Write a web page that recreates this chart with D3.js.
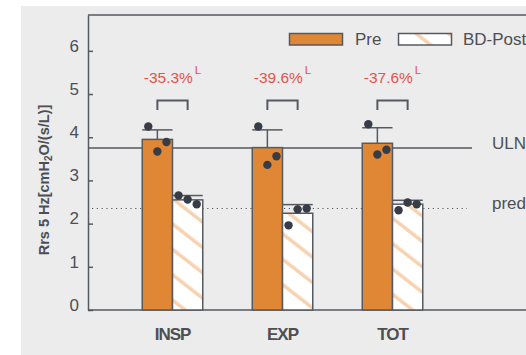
<!DOCTYPE html>
<html><head><meta charset="utf-8">
<script src="https://cdn.jsdelivr.net/npm/d3@7"></script>
<style>
html,body{margin:0;padding:0;background:#fff;overflow:hidden;}
svg{display:block;font-family:"Liberation Sans",Arial,sans-serif;}
</style></head><body>
<svg id="c" width="526" height="355"></svg>
<script>
const categories = ["INSP", "EXP", "TOT"];
const preValues = [3.95, 3.76, 3.86];
const postValues = [2.55, 2.24, 2.45];
const preErrTop = [4.17, 4.17, 4.22];
const postErrTop = [2.65, 2.44, 2.54];
// individual points: [left, center, right]
const preDots = [[4.25, 3.67, 3.89], [4.25, 3.36, 3.56], [4.30, 3.60, 3.71]];
const postDots = [[2.65, 2.56, 2.45], [1.96, 2.33, 2.35], [2.31, 2.49, 2.45]];
const changeLabels = ["-35.3%", "-39.6%", "-37.6%"];
const yTicks = [0, 1, 2, 3, 4, 5, 6];
const ulnValue = 3.75;
const predValue = 2.35;
const seriesNames = ["Pre", "BD-Post"];

(function(){
const svg = d3.select("#c");
const orange = "#e08736", stroke = "#555a60", textC = "#4d4f55", dotC = "#373c46", red = "#e5534b";

const defs = svg.append("defs");
const pat = defs.append("pattern").attr("id","hatch").attr("patternUnits","userSpaceOnUse")
  .attr("width",20).attr("height",20).attr("patternTransform","rotate(-52)");
pat.append("rect").attr("width",20).attr("height",20).attr("fill","#fff");
pat.append("rect").attr("x",8).attr("width",3.5).attr("height",20).attr("fill","#f7d2b0");

svg.append("rect").attr("x",21).attr("y",6).attr("width",505).attr("height",349).attr("fill","#ececec");

const mLeft = 88, mBottom = 310, mTop = 15;
const y = d3.scaleLinear().domain([0, 6.83]).range([mBottom, mTop]);
const x = d3.scaleBand().domain(categories).range([142.25, 422.75]).paddingInner(0.45).paddingOuter(0);
const bw = x.bandwidth()/2;
const sub = d3.scaleBand().domain(seriesNames).range([0, x.bandwidth()]);

// frame
svg.append("line").attr("x1",mLeft).attr("x2",526).attr("y1",mTop).attr("y2",mTop).attr("stroke",stroke).attr("stroke-width",1.5);
svg.append("line").attr("x1",mLeft).attr("x2",526).attr("y1",mBottom).attr("y2",mBottom).attr("stroke",stroke).attr("stroke-width",1.5);

const ya = svg.append("g").attr("transform",`translate(${mLeft},0)`)
  .call(d3.axisLeft(y).tickValues(yTicks).tickFormat(d3.format("d")).tickSizeInner(-5).tickSizeOuter(0).tickPadding(9));
ya.select(".domain").attr("stroke",stroke).attr("stroke-width",1.5);
ya.selectAll(".tick line").attr("stroke",stroke).attr("stroke-width",1.5);
ya.selectAll(".tick text").attr("fill",textC).attr("font-size",17).attr("dy","0.02em")
  .attr("font-family","Liberation Sans, Arial, sans-serif");

// reference lines
svg.append("line").attr("x1",mLeft).attr("x2",472).attr("y1",y(ulnValue)).attr("y2",y(ulnValue))
  .attr("stroke",stroke).attr("stroke-width",1.5);
svg.append("line").attr("x1",92).attr("x2",467).attr("y1",y(predValue)).attr("y2",y(predValue))
  .attr("stroke",stroke).attr("stroke-width",1.2).attr("stroke-dasharray","1.2,3.6");
svg.append("text").attr("x",492).attr("y",y(ulnValue)+1).attr("font-size",17).attr("fill",textC).text("ULN");
svg.append("text").attr("x",492).attr("y",y(predValue)+1).attr("font-size",17).attr("fill",textC).text("pred");

// bars
categories.forEach((c,i)=>{
  const x0 = x(c) + sub("Pre"), x1 = x(c) + sub("BD-Post");
  [[x0, preValues[i], preErrTop[i]],[x1, postValues[i], postErrTop[i]]].forEach(([bx,v,e])=>{
    svg.append("line").attr("x1",bx+bw/2).attr("x2",bx+bw/2).attr("y1",y(v)).attr("y2",y(e)).attr("stroke",stroke).attr("stroke-width",1.5);
    svg.append("line").attr("x1",bx).attr("x2",bx+bw).attr("y1",y(e)).attr("y2",y(e)).attr("stroke",stroke).attr("stroke-width",1.5);
  });
  svg.append("rect").attr("x",x0).attr("y",y(preValues[i])).attr("width",bw).attr("height",y(0)-y(preValues[i]))
    .attr("fill",orange).attr("stroke",stroke).attr("stroke-width",1.5);
  svg.append("rect").attr("x",x1).attr("y",y(postValues[i])).attr("width",bw).attr("height",y(0)-y(postValues[i]))
    .attr("fill","url(#hatch)").attr("stroke",stroke).attr("stroke-width",1.5);
  const fr = [0.2, 0.5, 0.8];
  preDots[i].forEach((v,k)=>svg.append("circle").attr("cx",x0+bw*fr[k]).attr("cy",y(v)).attr("r",4.2).attr("fill",dotC));
  postDots[i].forEach((v,k)=>svg.append("circle").attr("cx",x1+bw*fr[k]).attr("cy",y(v)).attr("r",4.2).attr("fill",dotC));
  const bT = y(4.85), bB = y(4.63);
  svg.append("path").attr("d",`M${x0+bw/2},${bB}V${bT}H${x1+bw/2}V${bB}`).attr("fill","none").attr("stroke",stroke).attr("stroke-width",2);
  const t = svg.append("text").attr("x",x(c)+x.bandwidth()/2).attr("y",y(5.25)).attr("text-anchor","middle")
    .attr("font-size",15.5).attr("fill",red);
  t.append("tspan").text(changeLabels[i]);
  t.append("tspan").attr("font-size",11.5).attr("dx",2).attr("dy",-9).text("L");
  svg.append("text").attr("x",x(c)+x.bandwidth()/2).attr("y",340).attr("text-anchor","middle")
    .attr("font-size",17).attr("font-weight","bold").attr("letter-spacing",-1).attr("fill",textC).text(c);
});

// legend
svg.append("rect").attr("x",289.5).attr("y",33.5).attr("width",53).attr("height",11.5).attr("fill",orange).attr("stroke",stroke).attr("stroke-width",1.5);
svg.append("text").attr("x",355).attr("y",45).attr("font-size",17).attr("fill",textC).text(seriesNames[0]);
svg.append("rect").attr("x",398.5).attr("y",33.5).attr("width",53).attr("height",11.5).attr("fill","url(#hatch)").attr("stroke",stroke).attr("stroke-width",1.5);
svg.append("text").attr("x",463).attr("y",45).attr("font-size",17).attr("fill",textC).text(seriesNames[1]);

// y title
svg.append("text").attr("transform","translate(49,180) rotate(-90)").attr("text-anchor","middle")
  .attr("font-size",14.5).attr("font-weight","bold").attr("fill",textC)
  .call(t=>{t.append("tspan").text("Rrs 5 Hz[cmH");t.append("tspan").attr("font-size",10).attr("dy",3).text("2");
    t.append("tspan").attr("dy",-3).text("O/(s/L)]");});
})();
</script></body></html>
